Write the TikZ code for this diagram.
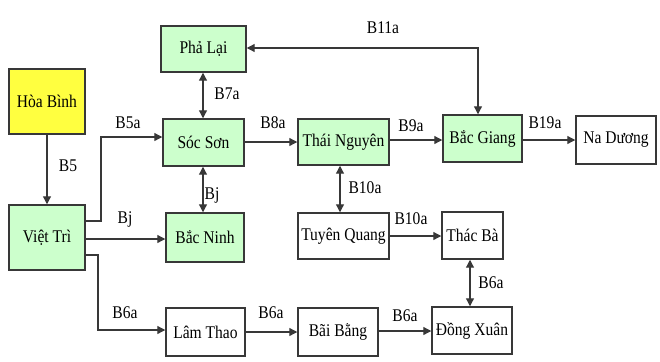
\documentclass[tikz,border=0pt]{standalone}
\usepackage{fontspec}
\setmainfont{Liberation Serif}
\newfontfamily\diagfont[FakeStretch=0.87]{Liberation Serif}
\usetikzlibrary{arrows.meta}
\definecolor{gfill}{HTML}{CCFFCC}
\definecolor{yfill}{HTML}{FFFF40}
\definecolor{edge}{HTML}{383838}
\begin{document}
\begin{tikzpicture}[x=0.75pt,y=-0.75pt,
  every node/.style={font=\diagfont\fontsize{13.4pt}{15pt}\selectfont, text=black},
  box/.style={draw=edge, line width=1.1pt, inner sep=0pt, rectangle},
  gbox/.style={box, fill=gfill},
  ybox/.style={box, fill=yfill},
  wbox/.style={box, fill=white},
  lab/.style={inner sep=0pt},
  conn/.style={draw=edge, line width=0.9pt, -{Triangle[length=6pt,width=6pt]}},
  bconn/.style={draw=edge, line width=0.9pt, {Triangle[length=6pt,width=6pt]}-{Triangle[length=6pt,width=6pt]}}]
\useasboundingbox (0,0) rectangle (660,361);
% boxes
\node[gbox, minimum width=85*0.75pt, minimum height=46*0.75pt] (pl) at (203.5,49) {Phả Lại};
\node[ybox, minimum width=76*0.75pt, minimum height=65*0.75pt] (hb) at (47,101.5) {Hòa Bình};
\node[gbox, minimum width=81*0.75pt, minimum height=47*0.75pt] (ss) at (203.5,142.5) {Sóc Sơn};
\node[gbox, minimum width=91*0.75pt, minimum height=46*0.75pt] (tn) at (343.5,142) {Thái Nguyên};
\node[gbox, minimum width=79*0.75pt, minimum height=47*0.75pt] (bg) at (482.5,138.5) {Bắc Giang};
\node[wbox, minimum width=80*0.75pt, minimum height=48*0.75pt] (nd) at (616,140) {Na Dương};
\node[gbox, minimum width=76*0.75pt, minimum height=65*0.75pt] (vt) at (47,237.5) {Việt Trì};
\node[gbox, minimum width=78*0.75pt, minimum height=49*0.75pt] (bn) at (205,237.5) {Bắc Ninh};
\node[wbox, minimum width=91*0.75pt, minimum height=46*0.75pt] (tq) at (343.5,236) {Tuyên Quang};
\node[wbox, minimum width=61*0.75pt, minimum height=47*0.75pt] (tb) at (472.5,235.5) {Thác Bà};
\node[wbox, minimum width=79*0.75pt, minimum height=48*0.75pt] (lt) at (205.5,332) {Lâm Thao};
\node[wbox, minimum width=80*0.75pt, minimum height=48*0.75pt] (bb) at (338,332) {Bãi Bằng};
\node[wbox, minimum width=80*0.75pt, minimum height=47*0.75pt] (dx) at (472,330.5) {Đồng Xuân};
% connectors
\draw[conn] (hb) -- (vt);
\draw[conn] (vt.east |- 0,221) -- (101,221) -- (101,137) -- (ss.west |- 0,137);
\draw[conn] (vt.east |- 0,239) -- (bn.west |- 0,239);
\draw[conn] (vt.east |- 0,255) -- (98,255) -- (98,330) -- (lt.west |- 0,330);
\draw[conn] (lt.east |- 0,332) -- (bb.west |- 0,332);
\draw[conn] (bb.east |- 0,331) -- (dx.west |- 0,331);
\draw[bconn] (pl.south -| 203,0) -- (ss.north -| 203,0);
\draw[bconn] (ss.south -| 203,0) -- (bn.north -| 203,0);
\draw[conn] (ss.east |- 0,142) -- (tn.west |- 0,142);
\draw[conn] (tn.east |- 0,140) -- (bg.west |- 0,140);
\draw[conn] (bg.east |- 0,140) -- (nd.west |- 0,140);
\draw[bconn] (tn.south -| 340,0) -- (tq.north -| 340,0);
\draw[conn] (tq.east |- 0,236) -- (tb.west |- 0,236);
\draw[bconn] (tb.south -| 470,0) -- (dx.north -| 470,0);
\draw[bconn] (pl.east |- 0,48) -| (bg.north -| 478,0);
% labels
\node[lab] (l1) at (68,166) {B5};
\node[lab] (l2) at (128,123) {B5a};
\node[lab] (l3) at (227,94) {B7a};
\node[lab] (l4) at (273,123) {B8a};
\node[lab] (l5) at (383,28) {B11a};
\node[lab] (l6) at (411,126) {B9a};
\node[lab] (l7) at (545,123) {B19a};
\node[lab] (l8) at (125,219) {Bj};
\node[lab] (l9) at (212,195) {Bj};
\node[lab] (l10) at (365,188) {B10a};
\node[lab] (l11) at (411,219) {B10a};
\node[lab] (l12) at (491,283) {B6a};
\node[lab] (l13) at (125,313) {B6a};
\node[lab] (l14) at (271,313) {B6a};
\node[lab] (l15) at (405,316) {B6a};
\end{tikzpicture}
\end{document}
